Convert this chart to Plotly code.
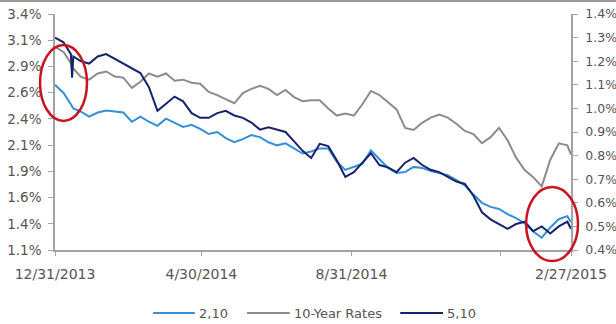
import plotly.graph_objects as go

# Observation dates (weekly, with extra days around the mid-January dip)
dates = [
    "2013-12-31", "2014-01-07", "2014-01-13", "2014-01-14", "2014-01-15",
    "2014-01-21", "2014-01-28",
    "2014-02-04", "2014-02-11", "2014-02-18", "2014-02-25",
    "2014-03-04", "2014-03-11", "2014-03-18", "2014-03-25",
    "2014-04-01", "2014-04-08", "2014-04-15", "2014-04-22", "2014-04-29",
    "2014-05-06", "2014-05-13", "2014-05-20", "2014-05-27",
    "2014-06-03", "2014-06-10", "2014-06-17", "2014-06-24",
    "2014-07-01", "2014-07-08", "2014-07-15", "2014-07-22", "2014-07-29",
    "2014-08-05", "2014-08-12", "2014-08-19", "2014-08-26",
    "2014-09-02", "2014-09-09", "2014-09-16", "2014-09-23", "2014-09-30",
    "2014-10-07", "2014-10-14", "2014-10-21", "2014-10-28",
    "2014-11-04", "2014-11-11", "2014-11-18", "2014-11-25",
    "2014-12-02", "2014-12-09", "2014-12-16", "2014-12-23", "2014-12-30",
    "2015-01-06", "2015-01-13", "2015-01-20", "2015-01-27",
    "2015-02-03", "2015-02-10", "2015-02-17", "2015-02-24", "2015-02-27",
]

# 2s10s spread (%), left axis
spread_2_10 = [
    2.71, 2.63, 2.52, 2.50, 2.48, 2.45, 2.40,
    2.44, 2.46, 2.45, 2.44,
    2.35, 2.40, 2.35, 2.31,
    2.38, 2.34, 2.30, 2.32, 2.28,
    2.23, 2.25, 2.19, 2.15,
    2.18, 2.22, 2.20, 2.15,
    2.12, 2.14, 2.09, 2.04, 2.06,
    2.09, 2.09, 1.96, 1.88,
    1.91, 1.94, 2.07, 1.99, 1.90,
    1.85, 1.86, 1.91, 1.90,
    1.87, 1.85, 1.83, 1.78,
    1.73, 1.64, 1.56, 1.52, 1.50,
    1.45, 1.41, 1.36, 1.28,
    1.22, 1.32, 1.40, 1.43, 1.37,
]

# 10-year Treasury yield (%), left axis
ten_year = [
    3.08, 3.03, 2.92, 2.90, 2.87, 2.79, 2.76,
    2.82, 2.84, 2.79, 2.78,
    2.68, 2.74, 2.82, 2.79,
    2.82, 2.75, 2.76, 2.73, 2.72,
    2.64, 2.61, 2.57, 2.53,
    2.63, 2.67, 2.70, 2.67,
    2.61, 2.66, 2.59, 2.55, 2.56,
    2.56, 2.48, 2.41, 2.43,
    2.41, 2.52, 2.65, 2.61, 2.54,
    2.47, 2.29, 2.27, 2.34,
    2.39, 2.42, 2.39, 2.33,
    2.26, 2.23, 2.14, 2.20, 2.29,
    2.17, 2.00, 1.88, 1.81,
    1.72, 1.98, 2.14, 2.12, 2.03,
]

# 5s10s spread (%), right axis
spread_5_10 = [
    1.30, 1.28, 1.23, 1.13, 1.22, 1.20, 1.19,
    1.22, 1.23, 1.21, 1.19,
    1.17, 1.15, 1.09, 0.99,
    1.02, 1.05, 1.03, 0.98, 0.96,
    0.96, 0.98, 0.99, 0.97,
    0.96, 0.94, 0.91, 0.92,
    0.91, 0.90, 0.86, 0.82, 0.79,
    0.85, 0.84, 0.78, 0.71,
    0.73, 0.77, 0.81, 0.76, 0.75,
    0.73, 0.77, 0.79, 0.76,
    0.74, 0.73, 0.71, 0.69,
    0.68, 0.63, 0.56, 0.53, 0.51,
    0.49, 0.51, 0.52, 0.48,
    0.50, 0.47, 0.50, 0.52, 0.49,
]

series_names = ["2,10", "10-Year Rates", "5,10"]

x_tick_dates = ["2013-12-31", "2014-04-30", "2014-08-31", "2014-12-31", "2015-02-27"]
x_tick_text = ["12/31/2013", "4/30/2014", "8/31/2014", "", "2/27/2015"]

LIGHT_BLUE = "#3290da"
GRAY = "#8c8c8c"
NAVY = "#16226e"
AXIS = "#a3a3a3"
TEXT = "#555555"
FONT = "DejaVu Sans"
colors = [LIGHT_BLUE, GRAY, NAVY]

fig = go.Figure()
fig.add_trace(go.Scatter(x=dates, y=spread_2_10, name=series_names[0], mode="lines",
                         line=dict(color=LIGHT_BLUE, width=2)))
fig.add_trace(go.Scatter(x=dates, y=ten_year, name=series_names[1], mode="lines",
                         line=dict(color=GRAY, width=2)))
fig.add_trace(go.Scatter(x=dates, y=spread_5_10, name=series_names[2], mode="lines",
                         yaxis="y2", line=dict(color=NAVY, width=2)))

fig.update_layout(
    width=616, height=324,
    margin=dict(l=55, r=45, t=14, b=74, autoexpand=False),
    paper_bgcolor="white", plot_bgcolor="white",
    font=dict(family=FONT, size=13, color=TEXT),
    showlegend=False,
    xaxis=dict(type="date", range=["2013-12-31", "2015-02-27"],
               tickmode="array", tickvals=x_tick_dates, ticktext=x_tick_text,
               showgrid=False, zeroline=False, automargin=False,
               showline=True, linecolor=AXIS, linewidth=1.5,
               ticks="outside", ticklen=4, tickcolor=AXIS, ticklabelstandoff=6,
               tickfont=dict(size=14, color=TEXT)),
    yaxis=dict(range=[1.1, 3.4], tickmode="linear", tick0=1.1, dtick=2.3 / 9,
               tickformat=".1f", ticksuffix="%",
               showgrid=False, zeroline=False, automargin=False,
               showline=True, linecolor=AXIS, linewidth=1.5,
               ticks="outside", ticklen=5, tickcolor=AXIS, ticklabelstandoff=4,
               tickfont=dict(size=13.5, color=TEXT)),
    yaxis2=dict(range=[0.4, 1.4], tickmode="linear", tick0=0.4, dtick=0.1,
                tickformat=".1f", ticksuffix="%", overlaying="y", side="right",
                showgrid=False, zeroline=False, automargin=False,
                showline=True, linecolor=AXIS, linewidth=1.5,
                ticks="outside", ticklen=5, tickcolor=AXIS, ticklabelstandoff=5,
                tickfont=dict(size=12.5, color=TEXT)),
)

# Legend row below the plot: a line swatch followed by its label
legend_line_x = [(0.190, 0.271), (0.372, 0.455), (0.669, 0.752)]
legend_y = -0.267
for (lx0, lx1), name, col in zip(legend_line_x, series_names, colors):
    fig.add_shape(type="line", xref="paper", yref="paper",
                  x0=lx0, x1=lx1, y0=legend_y, y1=legend_y,
                  line=dict(color=col, width=2))
    fig.add_annotation(xref="paper", yref="paper", x=lx1 + 0.004, y=legend_y,
                       text=name, showarrow=False, xanchor="left", yanchor="middle",
                       font=dict(size=13, color=TEXT))

# Highlight ellipses around the start and end of the period
RED = "#c8141e"
fig.add_shape(type="circle", xref="paper", yref="paper",
              x0=-0.029, x1=0.062, y0=0.547, y1=0.869,
              line=dict(color=RED, width=2.5))
fig.add_shape(type="circle", xref="paper", yref="paper",
              x0=0.913, x1=1.0136, y0=-0.047, y1=0.267,
              line=dict(color=RED, width=2.5))

# Thin frame line along the top edge
fig.add_shape(type="line", xref="paper", yref="paper",
              x0=-0.11, x1=1.09, y0=1.055, y1=1.055,
              line=dict(color="#9a9a9a", width=2))

fig.write_html("out.html")
